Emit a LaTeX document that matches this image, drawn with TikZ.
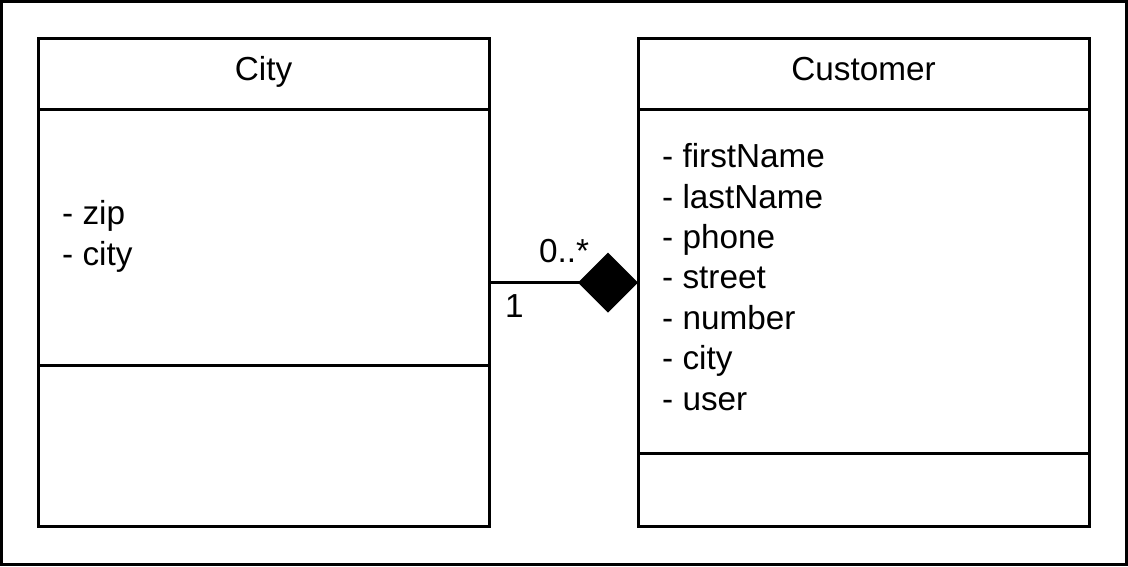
\documentclass[tikz,border=0pt]{standalone}
\usepackage{fontspec}
\setmainfont{Liberation Sans}
\usetikzlibrary{positioning,arrows.meta}

\newcommand{\umlfont}{\fontsize{33.3}{40.5}\selectfont}
\tikzset{
  umlbox/.style={draw, line width=3pt, minimum width=451pt, inner sep=0pt, outer sep=0pt, anchor=north},
  umltitle/.style={font=\umlfont, text height=22pt, text depth=9pt},
  attr/.style={font=\umlfont, inner sep=0pt, text height=22pt, text depth=9pt},
  mult/.style={font=\umlfont, inner sep=0pt, anchor=base west},
  aggr/.style={line width=3pt, -{Diamond[length=60pt,width=60pt]}}
}

\begin{document}
\begin{tikzpicture}[x=1pt,y=1pt]
\useasboundingbox (0,0) rectangle (1128,-566);
\draw[line width=3pt, fill=white] (1.5,-1.5) rectangle (1126.5,-564.5); % Outer frame

\node[umlbox, umltitle, minimum height=71pt] (cityname) at (263.5,-38) {City}; % City class
\node[umlbox, minimum height=256pt, below=0pt of cityname] (cityattr) {};
\node[umlbox, minimum height=161pt, below=0pt of cityattr] (cityops) {};

\node[umlbox, umltitle, minimum height=71pt] (custname) at (863.5,-38) {Customer}; % Customer class
\node[umlbox, minimum height=344pt, below=0pt of custname] (custattr) {};
\node[umlbox, minimum height=73pt, below=0pt of custattr] (custops) {};

\node[attr, below right=93.5pt and 24pt of cityattr.north west] (cityzip) {- zip}; % City attributes
\node[attr, below right=9pt and 0pt of cityzip.south west] (citycity) {- city};

\node[attr, below right=36.5pt and 24pt of custattr.north west] (custfirst) {- firstName}; % Customer attributes
\node[attr, below right=9pt and 0pt of custfirst.south west] (custlast) {- lastName};
\node[attr, below right=9pt and 0pt of custlast.south west] (custphone) {- phone};
\node[attr, below right=9pt and 0pt of custphone.south west] (custstreet) {- street};
\node[attr, below right=9pt and 0pt of custstreet.south west] (custnumber) {- number};
\node[attr, below right=9pt and 0pt of custnumber.south west] (custcity) {- city};
\node[attr, below right=9pt and 0pt of custcity.south west] (custuser) {- user};

\coordinate (assocend) at ([yshift=-1.5pt]custattr.west);
\draw[aggr] (assocend -| cityattr.east) -- (assocend)
  node[mult, pos=0, xshift=14.5pt, yshift=-34.5pt] (multcity) {1}
  node[mult, pos=1, xshift=-100.5pt, yshift=20.5pt] (multcust) {0..*}; % Composition
\end{tikzpicture}
\end{document}
